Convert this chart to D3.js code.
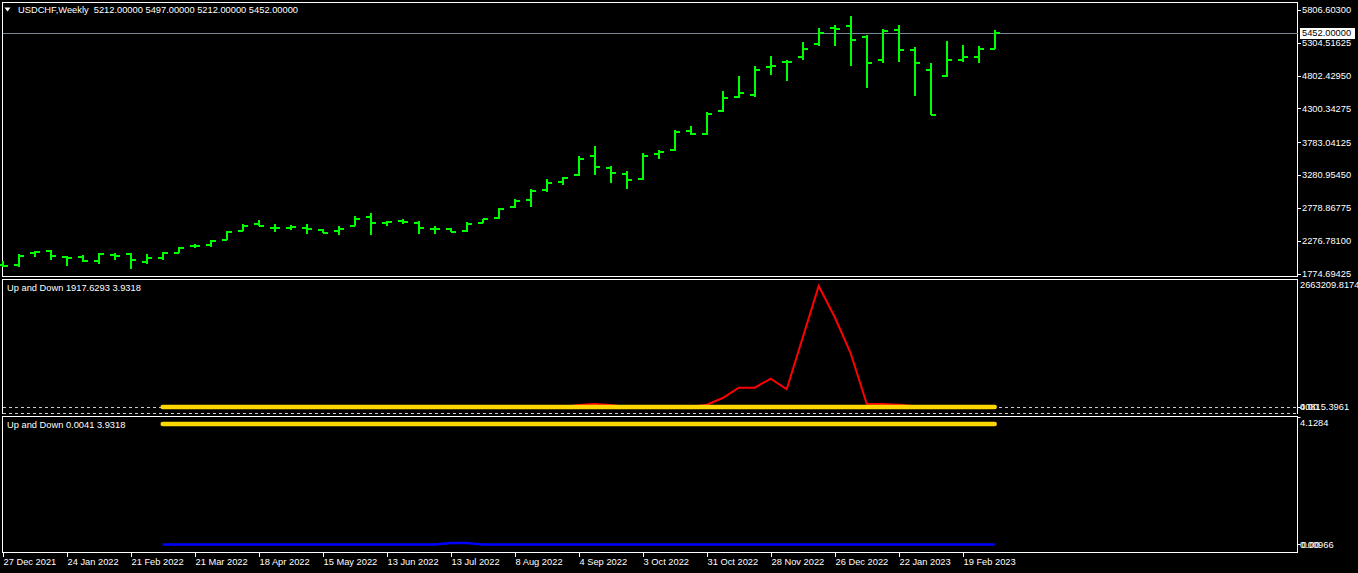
<!DOCTYPE html>
<html><head><meta charset="utf-8">
<script src="https://cdn.jsdelivr.net/npm/d3@7"></script>
<style>
html,body{margin:0;padding:0;background:#000;overflow:hidden}
svg{display:block}
text{font-family:"Liberation Sans",Arial,sans-serif;font-size:9.3px;fill:#fff;white-space:pre}
</style></head><body>
<svg id="c" width="1358" height="573"></svg>
<script>
// ---------- DATA ----------
const symbol = "USDCHF,Weekly";
const dateLabels = ["27 Dec 2021","24 Jan 2022","21 Feb 2022","21 Mar 2022","18 Apr 2022","15 May 2022","13 Jun 2022","13 Jul 2022","8 Aug 2022","4 Sep 2022","3 Oct 2022","31 Oct 2022","28 Nov 2022","26 Dec 2022","22 Jan 2023","19 Feb 2023"];
const priceTicks = [5806.60300,5304.51625,4802.42950,4300.34275,3783.04125,3280.95450,2778.86775,2276.78100,1774.69425];
const openP  = [1904,1904,2087,2113,2020,2022,1970,2052,2067,1955,2006,2092,2194,2214,2290,2427,2525,2473,2473,2464,2442,2418,2503,2641,2545,2575,2545,2462,2458,2427,2549,2625,2793,2900,3052,3174,3281,3570,3387,3296,3220,3601,3662,3951,3906,4256,4470,4511,4927,5012,5080,5293,5525,5567,5395,5034,5506,5201,4881,4790,5049,5080,5212];
const highP  = [1965,2067,2122,2138,2037,2057,2087,2087,2092,2067,2103,2174,2224,2281,2418,2525,2586,2525,2514,2525,2448,2494,2647,2708,2575,2616,2580,2494,2464,2570,2616,2784,2921,3063,3215,3246,3566,3733,3413,3337,3612,3657,3977,4038,4252,4572,4800,4953,5105,5044,5319,5532,5578,5715,5425,5517,5578,5238,4999,5329,5273,5258,5497];
const lowP   = [1869,1878,2031,1981,1894,1955,1924,1985,1848,1924,1985,2083,2168,2183,2281,2418,2494,2412,2442,2381,2388,2366,2499,2366,2494,2534,2381,2381,2403,2412,2540,2616,2784,2793,3022,3128,3272,3281,3159,3067,3211,3525,3647,3897,3895,4247,4465,4470,4816,4714,5044,5262,5262,4957,4607,4994,5018,4485,4206,4785,5018,4994,5212];
const closeP = [1894,2046,2098,2042,2012,1965,2077,2046,1985,2016,2083,2164,2199,2270,2412,2509,2503,2464,2488,2458,2392,2458,2610,2549,2564,2560,2473,2455,2412,2529,2610,2769,2884,3037,3159,3235,3525,3403,3311,3205,3570,3631,3936,3906,4221,4455,4531,4881,4957,5006,5212,5461,5518,5349,5003,5491,5201,4988,4206,5034,5095,5212,5452];
const lastPrice = 5452;
const indStart = 10; // indicator buffers begin at bar 10
const upDownA = [0,0,0,0,0,0,0,0,0,0,0,0,0,0,0,0,0,0,0,0,0,0,0,0,0,0,44000,66000,44000,0,0,0,0,0,50600,198000,424800,424800,622900,389600,1527500,2663209.8174,1980900,1181900,72600,66000,50600,15000,5000,3000,2500,2000,1917.6293];
const upDownB = Array(53).fill(3.9318);
const sub2Blue = [0.0041,0.0041,0.0041,0.0041,0.0041,0.0041,0.0041,0.0041,0.0041,0.0041,0.0041,0.0041,0.0041,0.0041,0.0041,0.0041,0.0041,0.0041,0.05,0.05,0.0041,0.0041,0.0041,0.0041,0.0041,0.0041,0.0041,0.0041,0.0041,0.0041,0.0041,0.0041,0.0041,0.0041,0.0041,0.0041,0.0041,0.0041,0.0041,0.0041,0.0041,0.0041,0.0041,0.0041,0.0041,0.0041,0.0041,0.0041,0.0041,0.0041,0.0041,0.0041,0.0041];
const sub2Yellow = Array(53).fill(3.9318);
const pane1Scale = [0, 2663209.8174];
const pane2Scale = [0.0041, 3.9318];

// ---------- LAYOUT ----------
const svg = d3.select("#c");
const L = 2.5, R = 1297.5;
const x = d3.scaleLinear().domain([0, openP.length-1]).range([2.7, 2.7+16*(openP.length-1)]);
const yP = d3.scaleLinear().domain([1774.69425, 5806.603]).range([273.5, 10]);
const y2 = d3.scaleLinear().domain(pane1Scale).range([407, 286]);
const y3 = d3.scaleLinear().domain(pane2Scale).range([544.5, 424]);

// frames
const g = svg.append("g").attr("shape-rendering","crispEdges");
g.append("rect").attr("x",L).attr("y",2.5).attr("width",R-L).attr("height",274).attr("fill","none").attr("stroke","#fff");
g.append("path").attr("d",`M${L},413.5V279.5H${R}V413.5`).attr("fill","none").attr("stroke","#fff");
g.append("line").attr("x1",L).attr("x2",R).attr("y1",413.5).attr("y2",413.5).attr("stroke","#ccc").attr("stroke-dasharray","3,3");
g.append("rect").attr("x",L).attr("y",416.5).attr("width",R-L).attr("height",136).attr("fill","none").attr("stroke","#fff");

// current price line
g.append("line").attr("x1",L).attr("x2",R).attr("y1",Math.round(yP(lastPrice))+0.5).attr("y2",Math.round(yP(lastPrice))+0.5).attr("stroke","#778899");

// OHLC bars
const bars = svg.append("g").attr("stroke","#00ff00").attr("stroke-width",2).attr("shape-rendering","crispEdges").attr("fill","none");
openP.forEach((o,i)=>{
  const xc = Math.round(x(i));
  bars.append("path").attr("d",
    `M${xc},${Math.round(yP(highP[i]))}V${Math.round(yP(lowP[i]))}`+
    `M${xc-5},${Math.round(yP(o))}H${xc}`+
    `M${xc},${Math.round(yP(closeP[i]))}H${xc+5}`);
});

// right price axis
const ax = svg.append("g");
priceTicks.forEach(v=>{
  const yy = Math.round(yP(v))+0.5;
  ax.append("line").attr("x1",R).attr("x2",R+3).attr("y1",yy).attr("y2",yy).attr("stroke","#fff").attr("shape-rendering","crispEdges");
  ax.append("text").attr("x",1302).attr("y",yP(v)).attr("dy","0.35em").text(v.toFixed(5));
});
// current price label
const yl = yP(lastPrice);
svg.append("rect").attr("x",1300).attr("y",Math.round(yl)-5).attr("width",55).attr("height",11).attr("fill","#fff");
svg.append("text").attr("x",1302).attr("y",yl).attr("dy","0.35em").style("fill","#000").text(lastPrice.toFixed(5));

// header
svg.append("path").attr("d","M4.5,7.5L10.5,7.5L7.5,11.5Z").attr("fill","#fff");
svg.append("text").attr("x",18).attr("y",10).attr("dy","0.35em").attr("xml:space","preserve").text(`${symbol}  ${openP.at(-1).toFixed(5)} ${highP.at(-1).toFixed(5)} ${lowP.at(-1).toFixed(5)} ${closeP.at(-1).toFixed(5)}`);

// ---- pane 2 ----
const idx = d3.range(indStart, openP.length);
const lineGen = (ys, arr) => d3.line().x((d,k)=>x(idx[k])).y(d=>ys(d))(arr);
svg.append("path").attr("d",lineGen(y2, upDownA)).attr("fill","none").attr("stroke","#ff0000").attr("stroke-width",2);
svg.append("path").attr("d",lineGen(y2, upDownB)).attr("fill","none").attr("stroke","#ffd700").attr("stroke-width",4.5).attr("stroke-linecap","round");
g.append("line").attr("x1",L).attr("x2",R).attr("y1",407.5).attr("y2",407.5).attr("stroke","#ccc").attr("stroke-dasharray","3,3").attr("shape-rendering","crispEdges");
svg.append("text").attr("x",7).attr("y",288).attr("dy","0.35em").text(`Up and Down ${upDownA.at(-1).toFixed(4)} ${upDownB.at(-1).toFixed(4)}`);
svg.append("text").attr("x",1300).attr("y",285).attr("dy","0.35em").text(pane1Scale[1].toFixed(4));
svg.append("text").attr("x",1300).attr("y",407).attr("dy","0.35em").text("40815.3961");
svg.append("text").attr("x",1300).attr("y",407).attr("dy","0.35em").text("0.00");
svg.append("line").attr("x1",R).attr("x2",R+3).attr("y1",407.5).attr("y2",407.5).attr("stroke","#fff");

// ---- pane 3 ----
svg.append("path").attr("d",lineGen(y3, sub2Blue)).attr("fill","none").attr("stroke","#0000ff").attr("stroke-width",2.5);
svg.append("path").attr("d",lineGen(y3, sub2Yellow)).attr("fill","none").attr("stroke","#ffd700").attr("stroke-width",4.5).attr("stroke-linecap","round");
svg.append("text").attr("x",7).attr("y",425).attr("dy","0.35em").text(`Up and Down ${sub2Blue.at(-1).toFixed(4)} ${sub2Yellow.at(-1).toFixed(4)}`);
svg.append("text").attr("x",1300).attr("y",423).attr("dy","0.35em").text("4.1284");
svg.append("text").attr("x",1300).attr("y",545).attr("dy","0.35em").text("0.00966");
svg.append("text").attr("x",1301.5).attr("y",545).attr("dy","0.35em").text("0.00");
svg.append("line").attr("x1",R).attr("x2",R+3).attr("y1",544.5).attr("y2",544.5).attr("stroke","#fff");
svg.append("line").attr("x1",R).attr("x2",R+3).attr("y1",417.5).attr("y2",417.5).attr("stroke","#fff");

// ---- time axis ----
dateLabels.forEach((lab,k)=>{
  const xx = Math.round(x(k*4))+0.5;
  svg.append("line").attr("x1",xx).attr("x2",xx).attr("y1",552.5).attr("y2",556.5).attr("stroke","#fff").attr("shape-rendering","crispEdges");
  svg.append("text").attr("x",xx).attr("y",562).attr("dy","0.35em").text(lab);
});
</script></body></html>
